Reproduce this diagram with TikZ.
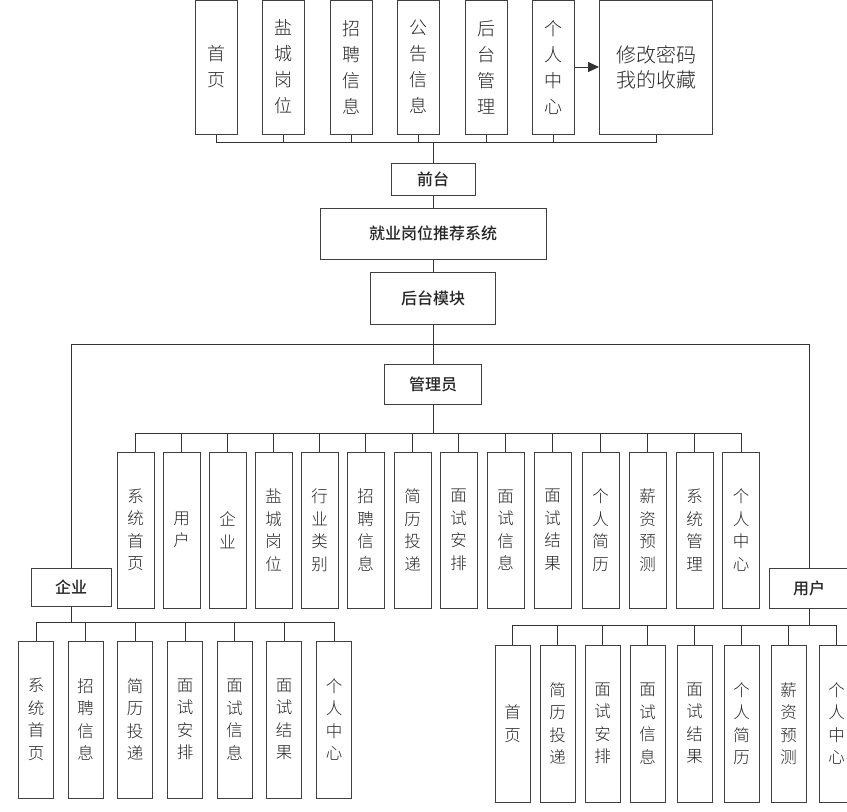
\documentclass[tikz,border=0pt]{standalone}
\usepackage{fontspec}
\setmainfont{Noto Sans CJK SC}[UprightFont=* Light,BoldFont=* Medium]
\usetikzlibrary{arrows.meta}

\begin{document}
\begin{tikzpicture}[x=1pt,y=-1pt]
\tikzstyle{every node} = [draw=black!75,fill=white,line width=1pt,
inner sep=0pt,text=black!85,align=center]
\tikzstyle{topbox} = [minimum width=42pt,minimum height=134pt,font=\fontsize{18}{26}\selectfont]
\tikzstyle{midbox} = [minimum width=37pt,minimum height=156pt,font=\fontsize{16.5}{22.5}\selectfont]
\tikzstyle{lowbox} = [minimum width=35pt,minimum height=157pt,font=\fontsize{16.5}{22.5}\selectfont]
\tikzstyle{headbox} = [font=\fontsize{16}{20}\selectfont\bfseries]
\tikzstyle{link} = [draw=black!80,line width=1pt]
\useasboundingbox (0,0) rectangle (847,812);
% front end
\node[topbox] (t1) at (216, 67) {首\\页};
\node[topbox] (t2) at (283, 67) {盐\\城\\岗\\位};
\node[topbox] (t3) at (351, 67) {招\\聘\\信\\息};
\node[topbox] (t4) at (418, 67) {公\\告\\信\\息};
\node[topbox] (t5) at (486, 67) {后\\台\\管\\理};
\node[topbox] (t6) at (553, 67) {个\\人\\中\\心};
\node[topbox,minimum width=113pt,font=\fontsize{20}{25}\selectfont] (t7) at (656, 67) {修改密码\\我的收藏};
\node[headbox,minimum width=84pt,minimum height=32pt] (qt) at (433, 179) {前台};
\node[headbox,minimum width=226pt,minimum height=51pt] (xt) at (433, 233.5) {就业岗位推荐系统};
\node[headbox,minimum width=125pt,minimum height=52pt] (ht) at (433, 298) {后台模块};
% roles
\node[headbox,minimum width=97pt,minimum height=40pt] (gly) at (433, 384) {管理员};
\node[headbox,minimum width=80pt,minimum height=38pt] (qy) at (71, 587) {企业};
\node[headbox,minimum width=80pt,minimum height=40pt] (yh) at (809, 588) {用户};
% admin
\node[midbox] (a1) at (135.5, 530) {系\\统\\首\\页};
\node[midbox] (a2) at (181.5, 530) {用\\户};
\node[midbox] (a3) at (227.5, 530) {企\\业};
\node[midbox] (a4) at (273.5, 530) {盐\\城\\岗\\位};
\node[midbox] (a5) at (319.5, 530) {行\\业\\类\\别};
\node[midbox] (a6) at (365.5, 530) {招\\聘\\信\\息};
\node[midbox] (a7) at (412.5, 530) {简\\历\\投\\递};
\node[midbox] (a8) at (458.5, 530) {面\\试\\安\\排};
\node[midbox] (a9) at (505.5, 530) {面\\试\\信\\息};
\node[midbox] (a10) at (552.5, 530) {面\\试\\结\\果};
\node[midbox] (a11) at (600.5, 530) {个\\人\\简\\历};
\node[midbox] (a12) at (647.5, 530) {薪\\资\\预\\测};
\node[midbox] (a13) at (694.5, 530) {系\\统\\管\\理};
\node[midbox] (a14) at (741, 530) {个\\人\\中\\心};
% company
\node[lowbox] (e1) at (36, 719.5) {系\\统\\首\\页};
\node[lowbox] (e2) at (85.5, 719.5) {招\\聘\\信\\息};
\node[lowbox] (e3) at (135, 719.5) {简\\历\\投\\递};
\node[lowbox] (e4) at (185, 719.5) {面\\试\\安\\排};
\node[lowbox] (e5) at (234.5, 719.5) {面\\试\\信\\息};
\node[lowbox] (e6) at (284, 719.5) {面\\试\\结\\果};
\node[lowbox] (e7) at (334, 719.5) {个\\人\\中\\心};
% user
\node[lowbox] (u1) at (512.5, 723.5) {首\\页};
\node[lowbox] (u2) at (557.5, 723.5) {简\\历\\投\\递};
\node[lowbox] (u3) at (602.5, 723.5) {面\\试\\安\\排};
\node[lowbox] (u4) at (647.5, 723.5) {面\\试\\信\\息};
\node[lowbox] (u5) at (694.5, 723.5) {面\\试\\结\\果};
\node[lowbox] (u6) at (741.5, 723.5) {个\\人\\简\\历};
\node[lowbox] (u7) at (788.5, 723.5) {薪\\资\\预\\测};
\node[lowbox] (u8) at (836.5, 723.5) {个\\人\\中\\心};
% links
\draw [link] (qt.north) -- ++(0,-20) -| (t1.south);
\draw [link] (qt.north) -- ++(0,-20) -| (t2.south);
\draw [link] (qt.north) -- ++(0,-20) -| (t3.south);
\draw [link] (qt.north) -- ++(0,-20) -| (t4.south);
\draw [link] (qt.north) -- ++(0,-20) -| (t5.south);
\draw [link] (qt.north) -- ++(0,-20) -| (t6.south);
\draw [link] (qt.north) -- ++(0,-20) -| (t7.south);
\draw [link,-{Triangle[length=11pt,width=10pt]}] (t6) -- (t7);
\draw [link] (qt) -- (xt);
\draw [link] (xt) -- (ht);
\draw [link] (ht) -- (gly);
\draw [link] (ht.south) -- ++(0,20) -| (qy.north);
\draw [link] (ht.south) -- ++(0,20) -| (yh.north);
\draw [link] (gly.south) -- ++(0,29) -| (a1.north);
\draw [link] (gly.south) -- ++(0,29) -| (a2.north);
\draw [link] (gly.south) -- ++(0,29) -| (a3.north);
\draw [link] (gly.south) -- ++(0,29) -| (a4.north);
\draw [link] (gly.south) -- ++(0,29) -| (a5.north);
\draw [link] (gly.south) -- ++(0,29) -| (a6.north);
\draw [link] (gly.south) -- ++(0,29) -| (a7.north);
\draw [link] (gly.south) -- ++(0,29) -| (a8.north);
\draw [link] (gly.south) -- ++(0,29) -| (a9.north);
\draw [link] (gly.south) -- ++(0,29) -| (a10.north);
\draw [link] (gly.south) -- ++(0,29) -| (a11.north);
\draw [link] (gly.south) -- ++(0,29) -| (a12.north);
\draw [link] (gly.south) -- ++(0,29) -| (a13.north);
\draw [link] (gly.south) -- ++(0,29) -| (a14.north);
\draw [link] (qy.south) -- ++(0,16) -| (e1.north);
\draw [link] (qy.south) -- ++(0,16) -| (e2.north);
\draw [link] (qy.south) -- ++(0,16) -| (e3.north);
\draw [link] (qy.south) -- ++(0,16) -| (e4.north);
\draw [link] (qy.south) -- ++(0,16) -| (e5.north);
\draw [link] (qy.south) -- ++(0,16) -| (e6.north);
\draw [link] (qy.south) -- ++(0,16) -| (e7.north);
\draw [link] (yh.south) -- ++(0,17) -| (u1.north);
\draw [link] (yh.south) -- ++(0,17) -| (u2.north);
\draw [link] (yh.south) -- ++(0,17) -| (u3.north);
\draw [link] (yh.south) -- ++(0,17) -| (u4.north);
\draw [link] (yh.south) -- ++(0,17) -| (u5.north);
\draw [link] (yh.south) -- ++(0,17) -| (u6.north);
\draw [link] (yh.south) -- ++(0,17) -| (u7.north);
\draw [link] (yh.south) -- ++(0,17) -| (u8.north);
\end{tikzpicture}
\end{document}
